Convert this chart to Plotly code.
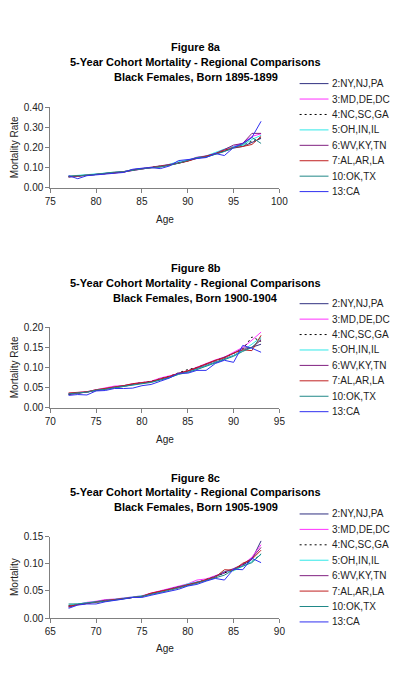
import plotly.graph_objects as go

W, H = 402, 686

series_names = ["2:NY,NJ,PA", "3:MD,DE,DC", "4:NC,SC,GA", "5:OH,IN,IL",
                "6:WV,KY,TN", "7:AL,AR,LA", "10:OK,TX", "13:CA"]

ages_a = list(range(77, 99))
ages_b = list(range(72, 94))
ages_c = list(range(67, 89))

vals_a = [
    [0.054,0.057,0.062,0.066,0.071,0.075,0.080,0.090,0.095,0.098,0.103,0.113,0.123,0.133,0.147,0.153,0.167,0.183,0.197,0.205,0.225,0.245],
    [0.056,0.059,0.063,0.067,0.071,0.074,0.078,0.087,0.093,0.100,0.106,0.116,0.126,0.137,0.152,0.158,0.171,0.188,0.206,0.222,0.255,0.268],
    [0.055,0.058,0.062,0.066,0.070,0.074,0.079,0.088,0.094,0.099,0.105,0.114,0.124,0.134,0.149,0.155,0.169,0.185,0.200,0.212,0.232,0.250],
    [0.058,0.060,0.065,0.069,0.071,0.076,0.080,0.090,0.095,0.100,0.104,0.117,0.130,0.137,0.150,0.158,0.175,0.192,0.205,0.210,0.240,0.260],
    [0.053,0.057,0.061,0.065,0.070,0.074,0.080,0.089,0.096,0.101,0.107,0.115,0.122,0.134,0.150,0.157,0.170,0.190,0.212,0.220,0.270,0.270],
    [0.056,0.058,0.062,0.066,0.070,0.074,0.078,0.087,0.093,0.098,0.104,0.113,0.122,0.132,0.146,0.156,0.168,0.186,0.200,0.205,0.215,0.255],
    [0.057,0.059,0.063,0.067,0.072,0.078,0.079,0.087,0.092,0.100,0.104,0.111,0.122,0.135,0.150,0.152,0.166,0.180,0.198,0.215,0.250,0.220],
    [0.060,0.045,0.060,0.065,0.070,0.072,0.076,0.092,0.097,0.100,0.095,0.108,0.135,0.140,0.148,0.150,0.170,0.160,0.200,0.220,0.250,0.330],
]
vals_b = [
    [0.033,0.036,0.039,0.043,0.046,0.050,0.053,0.058,0.062,0.065,0.071,0.077,0.085,0.091,0.097,0.105,0.113,0.121,0.130,0.143,0.150,0.158],
    [0.036,0.038,0.040,0.045,0.049,0.054,0.055,0.060,0.063,0.066,0.074,0.079,0.085,0.092,0.101,0.111,0.119,0.126,0.137,0.150,0.168,0.188],
    [0.034,0.037,0.039,0.044,0.047,0.051,0.054,0.059,0.062,0.066,0.072,0.078,0.087,0.095,0.100,0.108,0.116,0.125,0.135,0.146,0.176,0.165],
    [0.035,0.037,0.039,0.044,0.047,0.051,0.054,0.057,0.061,0.064,0.069,0.075,0.084,0.089,0.096,0.104,0.112,0.120,0.130,0.142,0.158,0.175],
    [0.034,0.036,0.039,0.044,0.047,0.052,0.055,0.059,0.062,0.065,0.071,0.077,0.085,0.091,0.099,0.108,0.116,0.125,0.135,0.148,0.150,0.168],
    [0.037,0.039,0.040,0.045,0.048,0.052,0.055,0.060,0.063,0.065,0.072,0.078,0.086,0.092,0.100,0.109,0.118,0.124,0.136,0.144,0.142,0.180],
    [0.035,0.037,0.039,0.044,0.046,0.050,0.053,0.056,0.060,0.063,0.069,0.075,0.083,0.088,0.095,0.103,0.111,0.119,0.128,0.140,0.150,0.172],
    [0.031,0.033,0.032,0.042,0.043,0.048,0.048,0.049,0.055,0.058,0.066,0.074,0.086,0.086,0.093,0.093,0.110,0.118,0.113,0.155,0.148,0.138],
]
vals_c = [
    [0.020,0.025,0.028,0.030,0.032,0.034,0.036,0.038,0.040,0.045,0.049,0.053,0.057,0.062,0.066,0.070,0.076,0.083,0.089,0.097,0.108,0.142],
    [0.022,0.026,0.029,0.031,0.034,0.035,0.037,0.039,0.041,0.046,0.050,0.055,0.058,0.063,0.070,0.072,0.078,0.084,0.090,0.098,0.112,0.135],
    [0.023,0.025,0.027,0.030,0.032,0.034,0.036,0.038,0.040,0.045,0.048,0.053,0.057,0.062,0.066,0.071,0.077,0.083,0.089,0.099,0.104,0.118],
    [0.024,0.026,0.028,0.030,0.032,0.034,0.036,0.038,0.041,0.044,0.048,0.052,0.057,0.063,0.067,0.070,0.076,0.086,0.087,0.095,0.104,0.117],
    [0.021,0.025,0.027,0.030,0.033,0.034,0.036,0.038,0.040,0.045,0.049,0.053,0.058,0.062,0.066,0.070,0.077,0.085,0.091,0.099,0.110,0.130],
    [0.022,0.025,0.027,0.029,0.032,0.034,0.036,0.038,0.040,0.046,0.049,0.053,0.056,0.061,0.065,0.071,0.075,0.089,0.088,0.101,0.108,0.125],
    [0.026,0.026,0.028,0.029,0.031,0.033,0.036,0.038,0.040,0.043,0.047,0.051,0.055,0.060,0.064,0.069,0.074,0.079,0.089,0.095,0.102,0.118],
    [0.018,0.024,0.026,0.026,0.030,0.032,0.035,0.038,0.038,0.042,0.046,0.050,0.053,0.059,0.062,0.068,0.073,0.070,0.090,0.089,0.110,0.102],
]

titles = [
    ["Figure 8a", "5-Year Cohort Mortality - Regional Comparisons", "Black Females, Born 1895-1899"],
    ["Figure 8b", "5-Year Cohort Mortality - Regional Comparisons", "Black Females, Born 1900-1904"],
    ["Figure 8c", "5-Year Cohort Mortality - Regional Comparisons", "Black Females, Born 1905-1909"],
]
ytitles = ["Mortality Rate", "Mortality Rate", "Mortality"]
xranges = [[75, 100], [70, 95], [65, 90]]
yranges = [[0, 0.40], [0, 0.20], [0, 0.15]]
ydticks = [0.10, 0.05, 0.05]

colors = ["#303080", "#ff30ff", "#000000", "#30e8e8", "#802080", "#c02020", "#208888", "#3030f0"]
dashes = ["solid", "solid", "2px,3px", "solid", "solid", "solid", "solid", "solid"]

# layout in pixels
plot_x0, plot_x1 = 46, 284
plot_y = [(103, 185), (327, 409), (540, 623)]
title_y = [(42, 57, 72), (267, 282, 297), (480, 495, 510)]
age_y = [217, 441, 654]
legend_y0 = [79, 303, 517]
legend_step = 15.7

def px(x):
    return x / W

def py(y):
    return 1 - y / H

fig = go.Figure()
ages_all = [ages_a, ages_b, ages_c]
vals_all = [vals_a, vals_b, vals_c]
font = "Liberation Sans, Arial, sans-serif"

annotations = []
shapes = []
for k in range(3):
    xa = "x" if k == 0 else f"x{k+1}"
    ya = "y" if k == 0 else f"y{k+1}"
    for i, name in enumerate(series_names):
        fig.add_trace(go.Scatter(
            x=ages_all[k], y=vals_all[k][i], mode="lines", name=name,
            line=dict(color=colors[i], width=1, dash=dashes[i]),
            xaxis=xa, yaxis=ya, showlegend=False))
    axkey = "xaxis" if k == 0 else f"xaxis{k+1}"
    aykey = "yaxis" if k == 0 else f"yaxis{k+1}"
    y_top, y_bot = plot_y[k]
    fig.update_layout(**{
        axkey: dict(domain=[px(plot_x0), px(plot_x1)], range=xranges[k], dtick=5,
                    showline=True, linecolor="#808080", linewidth=1,
                    ticks="outside", ticklen=4, tickcolor="#808080",
                    showgrid=False, zeroline=False, anchor=ya,
                    tickfont=dict(size=10, color="#222", family=font), fixedrange=True),
        aykey: dict(domain=[py(y_bot), py(y_top)], range=yranges[k], dtick=ydticks[k],
                    tickformat=".2f", showline=True, linecolor="#808080", linewidth=1,
                    ticks="outside", ticklen=4, tickcolor="#808080",
                    showgrid=False, zeroline=False, anchor=xa,
                    tickfont=dict(size=10, color="#222", family=font), fixedrange=True),
    })
    for j, t in enumerate(titles[k]):
        annotations.append(dict(text=f"<b>{t}</b>", x=px(197), y=py(title_y[k][j]),
                                xref="paper", yref="paper", showarrow=False,
                                xanchor="center", yanchor="middle",
                                font=dict(size=11, color="#000", family=font)))
    annotations.append(dict(text="Age", x=px((plot_x0 + plot_x1) / 2), y=py(age_y[k]),
                            xref="paper", yref="paper", showarrow=False,
                            xanchor="center", yanchor="middle",
                            font=dict(size=10, color="#222", family=font)))
    annotations.append(dict(text=ytitles[k], x=px(9), y=py((y_top + y_bot) / 2),
                            xref="paper", yref="paper", showarrow=False, textangle=-90,
                            xanchor="center", yanchor="middle",
                            font=dict(size=10, color="#222", family=font)))
    for i, name in enumerate(series_names):
        yy = legend_y0[k] + i * legend_step
        shapes.append(dict(type="line", xref="paper", yref="paper",
                           x0=px(305), x1=px(335), y0=py(yy), y1=py(yy),
                           line=dict(color=colors[i], width=1, dash=dashes[i])))
        annotations.append(dict(text=name, x=px(337), y=py(yy), xref="paper", yref="paper",
                                showarrow=False, xanchor="left", yanchor="middle",
                                font=dict(size=10, color="#222", family=font)))

fig.update_layout(width=W, height=H, margin=dict(l=0, r=0, t=0, b=0),
                  paper_bgcolor="white", plot_bgcolor="white",
                  annotations=annotations, shapes=shapes, showlegend=False)

fig.write_html("out.html", config={"displayModeBar": False})
